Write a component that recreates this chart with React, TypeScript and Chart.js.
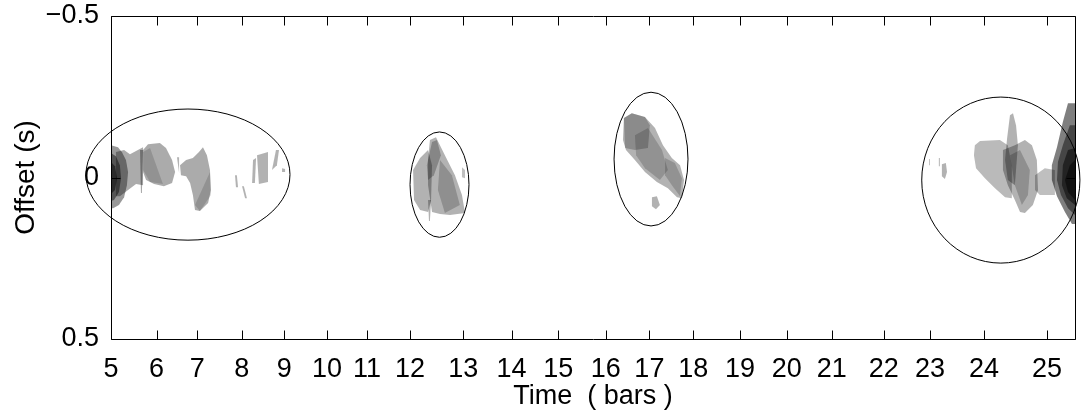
import { useEffect, useRef } from 'react';
import { Chart, registerables } from 'chart.js';

Chart.register(...registerables);

// Bar numbers and the time (s) at which each bar starts
const barNumbers = [5, 6, 7, 8, 9, 10, 11, 12, 13, 14, 15, 16, 17, 18, 19, 20, 21, 22, 23, 24, 25];
const barTimes = [0, 1.95, 3.69, 5.59, 7.41, 9.23, 10.94, 12.78, 15.06, 17.12, 19.12, 21.15, 23.01, 24.88, 26.88, 28.88, 30.8, 33.03, 35.0, 37.31, 40.0];
const timeEnd = 41.2;

// Offset axis
const offsetTicks = [-0.5, 0, 0.5];
const offsetTickLabels = ['−0.5', '0', '0.5'];

// Regions of interest (ellipses): centre time, centre offset, half-width (s), half-height (s)
const roiCentreTime = [3.29, 14.04, 23.08, 38.03];
const roiCentreOffset = [-0.009, 0.022, -0.057, 0.008];
const roiHalfWidth = [4.36, 1.26, 1.58, 3.38];
const roiHalfHeight = [0.203, 0.163, 0.207, 0.257];

// Similarity contours, as [time, offset] outlines
// bars 5 - 9
const onsetCoreOuter = [[0, -0.1], [0.3, -0.094], [0.47, -0.078], [0.64, -0.054], [0.73, -0.017], [0.68, 0.024], [0.56, 0.061], [0.34, 0.085], [0.09, 0.095], [0, 0.095]];
const onsetCoreMid = [[0, -0.076], [0.21, -0.066], [0.38, -0.038], [0.43, 0.002], [0.34, 0.045], [0.13, 0.07], [0, 0.073]];
const onsetCoreInner = [[0, -0.048], [0.17, -0.035], [0.26, 0.002], [0.17, 0.039], [0, 0.051]];
const introBand = [[0.21, -0.079], [0.56, -0.085], [0.81, -0.072], [1.07, -0.082], [1.37, -0.094], [1.37, 0.024], [1.07, 0.02], [0.73, 0.039], [0.38, 0.058], [0.21, 0.058]];
const introSpike = [[1.24, -0.085], [1.37, -0.085], [1.32, 0.048], [1.28, 0.048]];
const barSixBlob = [[1.37, -0.085], [1.58, -0.103], [2.09, -0.107], [2.35, -0.091], [2.61, -0.054], [2.74, -0.017], [2.61, 0.017], [2.26, 0.027], [1.84, 0.02], [1.5, 0.008], [1.37, -0.017]];
const barSixInner = [[1.37, -0.079], [1.67, -0.091], [2.22, 0.02], [1.67, 0.014], [1.37, -0.023]];
const barSixSpike = [[2.82, -0.063], [2.91, -0.063], [2.91, -0.014]];
const barSevenBlob = [[2.95, -0.038], [3.21, -0.054], [3.5, -0.06], [3.76, -0.079], [3.93, -0.094], [4.1, -0.069], [4.23, -0.023], [4.27, 0.039], [4.15, 0.079], [3.8, 0.104], [3.59, 0.101], [3.5, 0.054], [3.38, 0.017], [3.21, -0.004], [2.99, -0.007]];
const barSevenInner = [[4.23, -0.017], [4.27, 0.054], [3.8, 0.104], [3.59, 0.085]];
const sliverA = [[5.3, -0.007], [5.38, -0.007], [5.43, 0.03], [5.34, 0.03]];
const sliverB = [[5.6, 0.027], [5.68, 0.027], [5.81, 0.064], [5.73, 0.064]];
const sliverC = [[6.07, -0.054], [6.2, -0.06], [6.15, 0.017], [6.03, 0.017]];
const sliverD = [[6.24, -0.069], [6.71, -0.079], [6.71, 0.014], [6.32, 0.02]];
const sliverE = [[7.05, -0.085], [7.18, -0.085], [7.09, -0.038], [6.88, -0.023]];
const sliverF = [[7.31, -0.029], [7.44, -0.026], [7.44, -0.017], [7.31, -0.017]];
// bars 12 - 13
const midMain = [[13.63, -0.116], [13.89, -0.125], [14.27, -0.069], [14.7, -0.007], [15.0, 0.054], [15.13, 0.11], [14.49, 0.116], [14.06, 0.113], [13.72, 0.107], [13.55, 0.024], [13.55, -0.054]];
const midLeft = [[12.91, -0.023], [13.21, -0.06], [13.55, -0.085], [13.72, -0.038], [13.68, 0.07], [13.55, 0.107], [13.21, 0.101], [12.95, 0.07]];
const midRidge = [[13.72, -0.11], [13.93, -0.116], [14.1, -0.069], [13.8, -0.007], [13.55, 0.008], [13.5, -0.038]];
const midRight = [[14.06, -0.054], [14.57, -0.007], [14.91, 0.085], [14.27, 0.11], [13.97, 0.039]];
const midSpike = [[13.55, 0.07], [13.68, 0.07], [13.63, 0.135], [13.59, 0.135]];
const midDot = [[15.0, -0.032], [15.13, -0.023], [15.13, 0.002], [15.0, -0.001]];
// bars 16 - 18
const lateMain = [[21.92, -0.184], [22.26, -0.199], [22.82, -0.187], [23.25, -0.153], [23.59, -0.1], [23.97, -0.06], [24.32, -0.038], [24.49, 0.008], [24.4, 0.064], [24.19, 0.061], [23.8, 0.033], [23.33, 0.014], [22.82, -0.017], [22.39, -0.054], [22.01, -0.085], [21.88, -0.116]];
const lateHead = [[21.92, -0.184], [22.26, -0.199], [22.82, -0.187], [23.03, -0.162], [22.95, -0.091], [22.39, -0.085], [21.97, -0.091]];
const lateBody = [[22.39, -0.131], [22.95, -0.153], [23.55, -0.085], [23.8, -0.023], [23.46, 0.008], [22.82, -0.029], [22.44, -0.069]];
const lateTail = [[23.68, -0.06], [24.1, -0.045], [24.4, 0.002], [24.32, 0.058], [23.97, 0.024], [23.68, -0.007]];
const lateDot = [[23.12, 0.061], [23.33, 0.058], [23.46, 0.085], [23.29, 0.098], [23.12, 0.089]];
// bars 23 - 25
const endSpeckA = [[34.96, -0.057], [35.0, -0.057], [35.0, -0.038], [34.96, -0.038]];
const endSpeckB = [[35.38, -0.06], [35.43, -0.06], [35.43, -0.035], [35.38, -0.035]];
const endSpeckC = [[35.51, -0.041], [35.68, -0.045], [35.73, -0.017], [35.64, 0.005], [35.51, -0.004]];
const endPlateau = [[36.92, -0.1], [37.14, -0.113], [37.99, -0.116], [38.33, -0.1], [38.5, -0.038], [38.5, 0.064], [38.21, 0.061], [37.78, 0.033], [37.35, 0.002], [36.97, -0.029], [36.88, -0.069]];
const endSpike = [[38.29, -0.116], [38.42, -0.193], [38.55, -0.199], [38.68, -0.162], [38.76, -0.1], [38.63, 0.024], [38.33, 0.008], [38.21, -0.054]];
const endBody = [[38.12, -0.085], [38.63, -0.1], [39.06, -0.116], [39.36, -0.1], [39.57, -0.054], [39.62, 0.039], [39.4, 0.085], [39.06, 0.11], [38.85, 0.107], [38.63, 0.07], [38.33, 0.024], [38.12, -0.023]];
const endRidge = [[38.42, -0.069], [38.85, -0.085], [39.27, -0.023], [39.19, 0.054], [38.93, 0.085], [38.63, 0.024]];
const endTail = [[39.49, -0.007], [39.91, -0.029], [40.34, -0.023], [40.34, 0.054], [39.7, 0.054], [39.49, 0.039]];
const finalCoreOuter = [[40.9, -0.23], [41.2, -0.23], [41.2, 0.144], [41.07, 0.144], [40.77, 0.107], [40.43, 0.058], [40.21, 0.008], [40.21, -0.038], [40.43, -0.094], [40.68, -0.172]];
const finalCoreMid = [[40.98, -0.162], [41.2, -0.162], [41.2, 0.116], [40.9, 0.095], [40.6, 0.054], [40.43, 0.008], [40.47, -0.048], [40.68, -0.1]];
const finalCoreInner = [[40.9, -0.085], [41.2, -0.091], [41.2, 0.085], [40.85, 0.064], [40.64, 0.024], [40.68, -0.038]];
const finalCoreCentre = [[40.98, -0.038], [41.2, -0.054], [41.2, 0.07], [40.9, 0.045], [40.77, 0.008]];

// Drawing order and shade (opacity of black) for each contour
const contourLayers: [number[][], number][] = [
  [onsetCoreOuter, 0.4], [onsetCoreMid, 0.45], [onsetCoreInner, 0.5],
  [introBand, 0.33], [introSpike, 0.35], [barSixBlob, 0.33], [barSixInner, 0.15], [barSixSpike, 0.3],
  [barSevenBlob, 0.33], [barSevenInner, 0.15],
  [sliverA, 0.3], [sliverB, 0.3], [sliverC, 0.3], [sliverD, 0.3], [sliverE, 0.3], [sliverF, 0.3],
  [midMain, 0.3], [midLeft, 0.3], [midRidge, 0.25], [midRight, 0.2], [midSpike, 0.3], [midDot, 0.25],
  [lateMain, 0.3], [lateHead, 0.22], [lateBody, 0.18], [lateTail, 0.18], [lateDot, 0.3],
  [endSpeckA, 0.25], [endSpeckB, 0.25], [endSpeckC, 0.3],
  [endPlateau, 0.27], [endSpike, 0.3], [endBody, 0.3], [endRidge, 0.2], [endTail, 0.25],
  [finalCoreOuter, 0.5], [finalCoreMid, 0.45], [finalCoreInner, 0.5], [finalCoreCentre, 0.5],
];

const FONT = "'Liberation Sans', Arial, Helvetica, sans-serif";
const TICK_LEN = 9;

// Box frame, inward ticks on all four sides, and the region ellipses
const boxPlugin = {
  id: 'boxAndRegions',
  afterDatasetsDraw(chart: any) {
    const { ctx, scales } = chart;
    const x = scales.x;
    const y = scales.y;
    ctx.save();
    ctx.strokeStyle = '#000';
    ctx.lineWidth = 1;
    for (let i = 0; i < roiCentreTime.length; i++) {
      const cx = x.getPixelForValue(roiCentreTime[i]);
      const cy = y.getPixelForValue(roiCentreOffset[i]);
      const rx = Math.abs(x.getPixelForValue(roiCentreTime[i] + roiHalfWidth[i]) - cx);
      const ry = Math.abs(y.getPixelForValue(roiCentreOffset[i] + roiHalfHeight[i]) - cy);
      ctx.beginPath();
      ctx.ellipse(cx, cy, rx, ry, 0, 0, Math.PI * 2);
      ctx.stroke();
    }
    ctx.restore();
  },
  afterDraw(chart: any) {
    const { ctx, chartArea, scales } = chart;
    const x = scales.x;
    const y = scales.y;
    const l = Math.round(chartArea.left) + 0.5;
    const r = Math.round(chartArea.right) + 0.5;
    const t = Math.round(chartArea.top) + 0.5;
    const b = Math.round(chartArea.bottom) + 0.5;
    ctx.save();
    ctx.strokeStyle = '#000';
    ctx.lineWidth = 1;
    ctx.beginPath();
    ctx.rect(l, t, r - l, b - t);
    for (const v of barTimes) {
      const px = Math.round(x.getPixelForValue(v)) + 0.5;
      ctx.moveTo(px, b);
      ctx.lineTo(px, b - TICK_LEN);
      ctx.moveTo(px, t);
      ctx.lineTo(px, t + TICK_LEN);
    }
    for (const v of offsetTicks) {
      const py = Math.round(y.getPixelForValue(v)) + 0.5;
      ctx.moveTo(l, py);
      ctx.lineTo(l + TICK_LEN, py);
      ctx.moveTo(r, py);
      ctx.lineTo(r - TICK_LEN, py);
    }
    ctx.stroke();
    ctx.restore();
  },
};

export default function App() {
  const canvasRef = useRef<HTMLCanvasElement | null>(null);

  useEffect(() => {
    const canvas = canvasRef.current;
    if (!canvas) return;

    const datasets = contourLayers.map(([outline, shade]) => ({
      data: outline.map(([t, o]) => ({ x: t, y: o })),
      showLine: true,
      fill: 'shape',
      backgroundColor: `rgba(0,0,0,${shade})`,
      borderColor: 'rgba(0,0,0,0)',
      borderWidth: 0,
      pointRadius: 0,
      pointHoverRadius: 0,
      tension: 0,
    }));

    const chart = new Chart(canvas, {
      type: 'scatter',
      data: { datasets: datasets as any },
      plugins: [boxPlugin],
      options: {
        animation: false,
        responsive: false,
        devicePixelRatio: 1,
        events: [],
        layout: { padding: { top: 16, right: 11, left: 0, bottom: 0 } },
        plugins: {
          legend: { display: false },
          tooltip: { enabled: false },
        },
        scales: {
          x: {
            type: 'linear',
            min: 0,
            max: timeEnd,
            grid: { display: false },
            border: { display: false },
            afterBuildTicks: (s: any) => {
              s.ticks = barTimes.map((v) => ({ value: v }));
            },
            afterFit: (s: any) => {
              s.height = 71;
              s.paddingLeft = 0;
              s.paddingRight = 0;
            },
            ticks: {
              autoSkip: false,
              maxRotation: 0,
              minRotation: 0,
              padding: 6,
              color: '#000',
              font: { family: FONT, size: 27 },
              callback: (_v: any, i: number) => String(barNumbers[i]),
            },
            title: {
              display: true,
              text: 'Time  ( bars )',
              color: '#000',
              font: { family: FONT, size: 27 },
              padding: { top: 0, bottom: -3 },
            },
          },
          y: {
            type: 'linear',
            reverse: true,
            min: -0.5,
            max: 0.5,
            grid: { display: false },
            border: { display: false },
            afterBuildTicks: (s: any) => {
              s.ticks = offsetTicks.map((v) => ({ value: v }));
            },
            afterFit: (s: any) => {
              s.width = 111;
              s.paddingTop = 0;
              s.paddingBottom = 0;
            },
            ticks: {
              padding: 4,
              color: '#000',
              font: { family: FONT, size: 27 },
              callback: (_v: any, i: number) => offsetTickLabels[i],
            },
            title: {
              display: true,
              text: 'Offset (s)',
              color: '#000',
              font: { family: FONT, size: 28 },
              padding: { top: 9, bottom: 0 },
            },
          },
        },
      } as any,
    });

    return () => chart.destroy();
  }, []);

  return (
    <div style={{ position: 'fixed', left: 0, top: 0, width: 1086, height: 410, background: '#fff' }}>
      <canvas ref={canvasRef} width={1086} height={410} style={{ display: 'block' }} />
    </div>
  );
}
